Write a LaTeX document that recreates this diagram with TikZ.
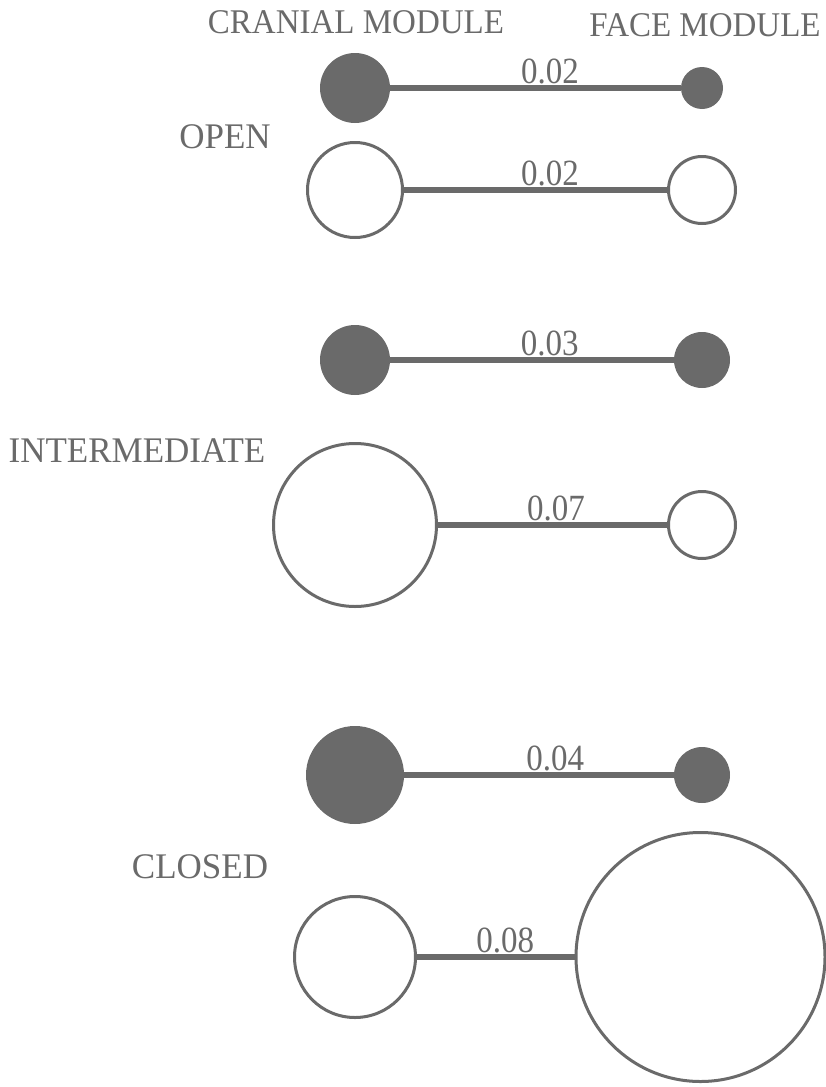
\documentclass[tikz,border=0pt]{standalone}
\usepackage{fontspec}
\setmainfont{Liberation Serif}
\definecolor{gr}{RGB}{106,106,106}
\begin{document}
\begin{tikzpicture}[x=1pt,y=-1pt,
 hdr/.style={text=gr, font=\fontsize{33}{33}\selectfont, anchor=base, inner sep=0pt, yscale=1.05},
 rowlbl/.style={text=gr, font=\fontsize{35}{35}\selectfont, anchor=base, inner sep=0pt, yscale=1.03},
 lbl/.style={text=gr, font=\fontsize{33}{33}\selectfont, anchor=base, inner sep=0pt, yshift=5pt, yscale=1.12},
 full/.style={circle, fill=gr, inner sep=0pt, minimum size=#1},
 empty/.style={circle, draw=gr, fill=white, line width=3pt, inner sep=0pt, minimum size=#1},
 link/.style={draw=gr, line width=6pt}]
\useasboundingbox (0,0) rectangle (826,1087);
% headers and row labels
\node[hdr] (hc) at (356,33) {CRANIAL MODULE};
\node[hdr] (hf) at (705,36) {FACE MODULE};
\node[rowlbl] (lo) at (225,148) {OPEN};
\node[rowlbl] (li) at (137,462) {INTERMEDIATE};
\node[rowlbl] (lc) at (200,878) {CLOSED};
% modules
\node[full=70] (c1) at (355,88) {};
\node[full=42] (f1) at (702,88) {};
\node[empty=95] (c2) at (355,190) {};
\node[empty=67] (f2) at (702,190) {};
\node[full=70] (c3) at (355,360) {};
\node[full=56] (f3) at (702,360) {};
\node[empty=163] (c4) at (355,525) {};
\node[empty=67] (f4) at (702,525) {};
\node[full=98] (c5) at (355,775) {};
\node[full=56] (f5) at (702,775) {};
\node[empty=121] (c6) at (355,957) {};
\node[empty=249] (f6) at (700.5,957) {};
% links
\draw[link] (c1) -- node[lbl,pos=.55] {0.02} (f1);
\draw[link] (c2) -- node[lbl,pos=.555] {0.02} (f2);
\draw[link] (c3) -- node[lbl,pos=.563] {0.03} (f3);
\draw[link] (c4) -- node[lbl,pos=.515] {0.07} (f4);
\draw[link] (c5) -- node[lbl,pos=.56] {0.04} (f5);
\draw[link] (c6) -- node[lbl,pos=.56] {0.08} (f6);
\end{tikzpicture}
\end{document}
